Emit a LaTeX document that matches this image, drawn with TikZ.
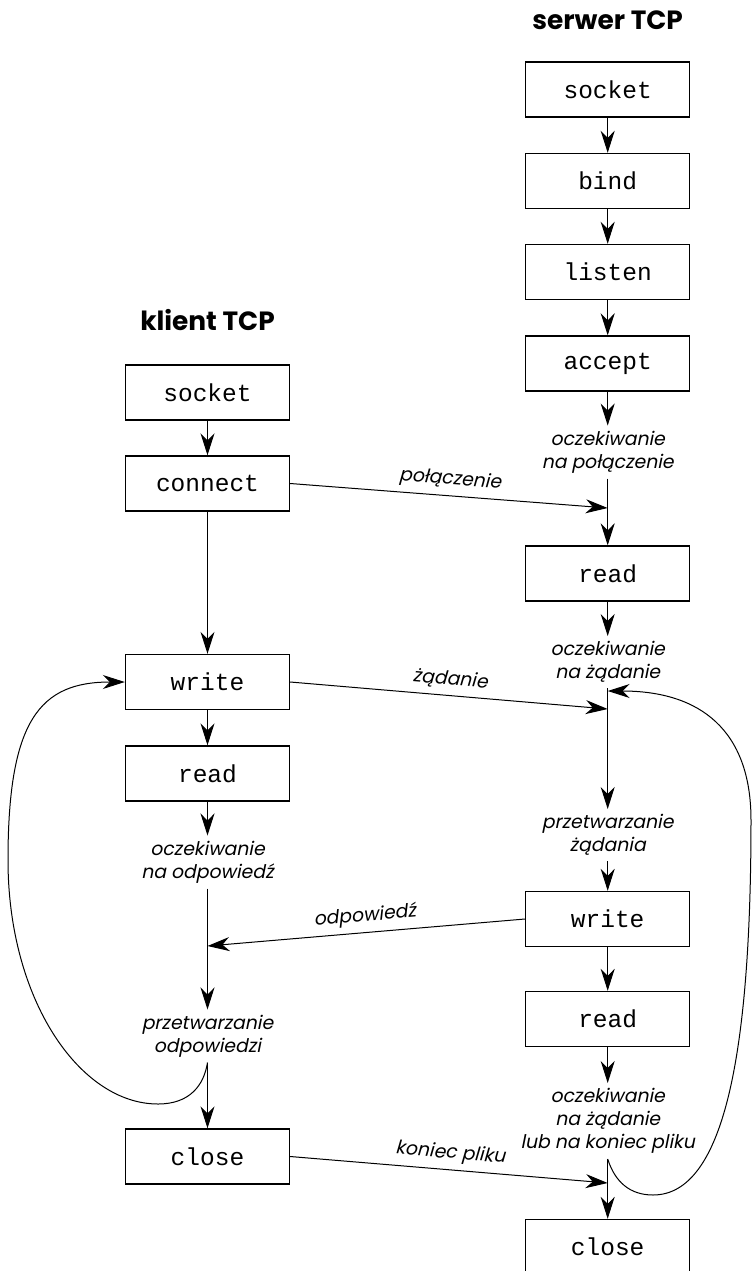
\documentclass[tikz,border=0pt]{standalone}
\usepackage{fontspec}
\newfontfamily\monofont{Liberation Mono}
\newfontfamily\lblfont[FakeSlant=0.2]{Poppins}
\newfontfamily\ttlfont{Poppins}
\usetikzlibrary{arrows.meta}
\begin{document}
\begin{tikzpicture}[x=0.5pt,y=-0.5pt,
 box/.style={draw, line width=0.7pt, minimum width=82pt, minimum height=27.5pt, inner sep=0pt, font=\monofont\fontsize{12.25}{14}\selectfont},
 lbl/.style={align=center, inner sep=2.5pt, font=\lblfont\fontsize{9.4}{11.5}\selectfont},
 ttl/.style={font=\ttlfont\bfseries\fontsize{13.2}{15}\selectfont},
 arr/.style={line width=0.5pt, -{Stealth[length=11pt,width=7pt,inset=3.5pt]}},
 edgelbl/.style={font=\lblfont\fontsize{9.4}{11.5}\selectfont, sloped, above, inner sep=3pt, pos=0.5}
]
\useasboundingbox (0,0) rectangle (752,1271);

% titles
\node[ttl] (tS) at (607.7,20) {serwer TCP};
\node[ttl] (tC) at (207.5,320) {klient TCP};

% server column
\node[box] (ssock) at (607.7,89.5) {socket};
\node[box] (sbind) at (607.7,181) {bind};
\node[box] (slist) at (607.7,272) {listen};
\node[box] (sacc) at (607.7,363.5) {accept};
\node[lbl] (sw1) at (607.7,452) {oczekiwanie\\na połączenie};
\node[box] (sread1) at (607.7,573.5) {read};
\node[lbl] (sw2) at (607.7,662) {oczekiwanie\\na żądanie};
\node[lbl] (sp) at (607.7,835) {przetwarzanie\\żądania};
\node[box] (swrite) at (607.7,919) {write};
\node[box] (sread2) at (607.7,1019) {read};
\node[lbl] (sw3) at (607.7,1121) {oczekiwanie\\na żądanie\\lub na koniec pliku};
\node[box] (sclose) at (607.7,1247) {close};

\coordinate (j1) at (607.7,508);
\coordinate (jl) at (607.7,691);
\coordinate (j2) at (607.7,709);
\coordinate (j4) at (607.7,1183);

% client column
\node[box] (csock) at (207.5,392.5) {socket};
\node[box] (cconn) at (207.5,483.5) {connect};
\node[box] (cwrite) at (207.5,682) {write};
\node[box] (cread) at (207.5,773.5) {read};
\node[lbl] (cw) at (207.5,862) {oczekiwanie\\na odpowiedź};
\node[lbl] (cp) at (207.5,1036) {przetwarzanie\\odpowiedzi};
\node[box] (cclose) at (207.5,1156.5) {close};

\coordinate (j3) at (207.5,946);

% server vertical flow
\draw[arr] (ssock) -- (sbind);
\draw[arr] (sbind) -- (slist);
\draw[arr] (slist) -- (sacc);
\draw[arr] (sacc) -- (sw1);
\draw[arr] (sw1) -- (sread1);
\draw[arr] (sread1) -- (sw2);
\draw[arr] (sw2) -- (sp);
\draw[arr] (sp) -- (swrite);
\draw[arr] (swrite) -- (sread2);
\draw[arr] (sread2) -- (sw3);
\draw[arr] (sw3) -- (sclose);

% client vertical flow
\draw[arr] (csock) -- (cconn);
\draw[arr] (cconn) -- (cwrite);
\draw[arr] (cwrite) -- (cread);
\draw[arr] (cread) -- (cw);
\draw[arr] (cw) -- (cp);
\draw[arr] (cp) -- (cclose);

% cross connections
\draw[arr] (cconn.east) -- node[edgelbl] {połączenie} (j1);
\draw[arr] (cwrite.east) -- node[edgelbl] {żądanie} (j2);
\draw[arr] (swrite.west) -- node[edgelbl] {odpowiedź} (j3);
\draw[arr] (cclose.east) -- node[edgelbl] {koniec pliku} (j4);

% loops
\draw[arr] (cp.south) .. controls (204,1085) and (190,1104) .. (158,1104)
  .. controls (80,1104) and (8,1000) .. (8,860)
  .. controls (8,720) and (40,682) .. (cwrite.west);
\draw[arr] (sw3.south) .. controls (615,1182) and (630,1195) .. (653,1195)
  .. controls (725,1195) and (751,1050) .. (751,820)
  .. controls (751,730) and (700,691) .. (jl);
\end{tikzpicture}
\end{document}
